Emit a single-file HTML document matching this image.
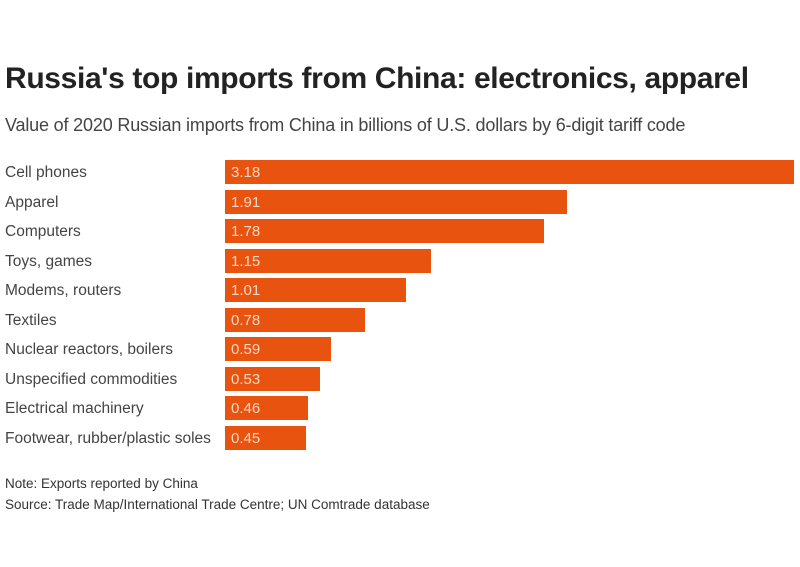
<!DOCTYPE html>
<html><head><meta charset="utf-8"><style>
body{margin:0;width:800px;height:567px;background:#fff;font-family:"Liberation Sans",sans-serif;position:relative;overflow:hidden;color:#333}
.t{position:absolute;left:5px;top:62px;font-size:30px;font-weight:bold;color:#222;letter-spacing:-0.35px}
.s{position:absolute;left:5px;top:115px;font-size:18px;color:#444;letter-spacing:-0.17px}
.l{position:absolute;left:5px;font-size:15.5px;color:#444;height:24px;line-height:26px}
.b{position:absolute;left:225px;height:24px;background:#e8540f;color:#fbd6c2;font-size:15px;line-height:26px;padding-left:6px;box-sizing:border-box}
.n{position:absolute;left:5px;font-size:13.5px;color:#333}
</style></head><body>
<div class="t">Russia's top imports from China: electronics, apparel</div>
<div class="s">Value of 2020 Russian imports from China in billions of U.S. dollars by 6-digit tariff code</div>
<div class="l" style="top:160px">Cell phones</div><div class="b" style="top:160px;width:569px">3.18</div>
<div class="l" style="top:189.5px">Apparel</div><div class="b" style="top:189.5px;width:342px">1.91</div>
<div class="l" style="top:219px">Computers</div><div class="b" style="top:219px;width:319px">1.78</div>
<div class="l" style="top:248.5px">Toys, games</div><div class="b" style="top:248.5px;width:206px">1.15</div>
<div class="l" style="top:278px">Modems, routers</div><div class="b" style="top:278px;width:181px">1.01</div>
<div class="l" style="top:307.5px">Textiles</div><div class="b" style="top:307.5px;width:140px">0.78</div>
<div class="l" style="top:337px">Nuclear reactors, boilers</div><div class="b" style="top:337px;width:106px">0.59</div>
<div class="l" style="top:366.5px">Unspecified commodities</div><div class="b" style="top:366.5px;width:95px">0.53</div>
<div class="l" style="top:396px">Electrical machinery</div><div class="b" style="top:396px;width:83px">0.46</div>
<div class="l" style="top:425.5px">Footwear, rubber/plastic soles</div><div class="b" style="top:425.5px;width:81px">0.45</div>
<div class="n" style="top:476px">Note: Exports reported by China</div>
<div class="n" style="top:497px">Source: Trade Map/International Trade Centre; UN Comtrade database</div>
</body></html>
